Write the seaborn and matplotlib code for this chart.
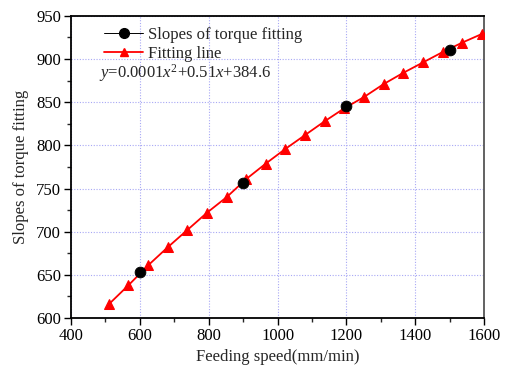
import matplotlib
matplotlib.use("Agg")
import matplotlib.pyplot as plt
from matplotlib.lines import Line2D
import seaborn as sns
import pandas as pd

# Measured slopes of the torque fitting
speed = [600, 900, 1200, 1500]
slope = [653, 756, 846, 911]

# Fitted curve sampled along the feeding-speed range
fit_speed = [510, 567, 624, 681, 738, 795, 852, 909, 966, 1023,
             1080, 1137, 1194, 1251, 1308, 1365, 1422, 1479, 1536, 1593]
fit_slope = [616, 638, 661, 682, 702, 722, 740, 761, 779, 796,
             812, 828, 843, 856, 871, 884, 896, 908, 919, 929]

xticks = [400, 600, 800, 1000, 1200, 1400, 1600]
yticks = [600, 650, 700, 750, 800, 850, 900, 950]

sns.set_theme(style="ticks")
plt.rcParams["font.family"] = ["Liberation Serif", "DejaVu Serif"]
plt.rcParams["mathtext.fontset"] = "custom"
plt.rcParams["mathtext.rm"] = "Liberation Serif"
plt.rcParams["mathtext.it"] = "Liberation Serif:italic"

fig = plt.figure(figsize=(5.14, 3.69), dpi=100)
ax = fig.add_axes([0.138, 0.138, 0.804, 0.819])

df_fit = pd.DataFrame({"x": fit_speed, "y": fit_slope})
df_pts = pd.DataFrame({"x": speed, "y": slope})

sns.lineplot(data=df_fit, x="x", y="y", ax=ax, color="red", lw=1.3,
             marker="^", markersize=6.5, markeredgecolor="red", zorder=3)
sns.scatterplot(data=df_pts, x="x", y="y", ax=ax, color="black", s=60,
                edgecolor="black", zorder=4)

ax.set_xlim(400, 1600)
ax.set_ylim(600, 950)
ax.set_xticks(xticks)
ax.set_yticks(yticks)
ax.set_xticks(range(500, 1600, 200), minor=True)
ax.set_yticks(range(625, 950, 50), minor=True)
ax.tick_params(axis="both", which="major", direction="out", length=5,
               width=1.0, labelsize=12, colors="black", pad=2)
ax.tick_params(axis="both", which="minor", direction="out", length=3,
               width=1.0)
ax.grid(True, which="major", color="#a8a8f5", linestyle=(0, (1, 1.5)), lw=0.8)
for sp in ax.spines.values():
    sp.set_visible(True)
    sp.set_color("black")
    sp.set_linewidth(1.3)
ax.spines["right"].set_color("#555555")

ax.set_xlabel("Feeding speed(mm/min)", fontsize=12, labelpad=4)
ax.set_ylabel("Slopes of torque fitting", fontsize=12, labelpad=5)

handles = [
    Line2D([], [], color="black", lw=0.7, marker="o", markersize=7),
    Line2D([], [], color="red", lw=1.3, marker="^", markersize=6),
]
ax.legend(handles, ["Slopes of torque fitting", "Fitting line"],
          loc="upper left", bbox_to_anchor=(0.055, 1.0), frameon=False,
          fontsize=12, handlelength=2.3, handletextpad=0.3,
          labelspacing=0.2, borderaxespad=0.25)
ax.text(0.068, 0.81, r"$\mathit{y}$=0.0001$\mathit{x}^2$+0.51$\mathit{x}$+384.6",
        transform=ax.transAxes, fontsize=12, va="center", ha="left")

fig.savefig("out.png", dpi=100)
